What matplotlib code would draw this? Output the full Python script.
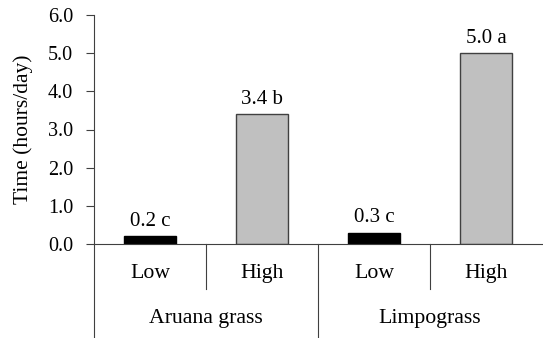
import matplotlib
matplotlib.use("Agg")
import matplotlib.pyplot as plt

plt.rcParams['font.family'] = ['Liberation Serif', 'DejaVu Serif']

groups = ["Aruana grass", "Limpograss"]
levels = ["Low", "High", "Low", "High"]
values = [0.2, 3.4, 0.3, 5.0]
letters = ["c", "b", "c", "a"]
bar_colors = ["#000000", "#c0c0c0", "#000000", "#c0c0c0"]
edge_colors = ["#000000", "#404040", "#000000", "#404040"]
yticks = [0.0, 1.0, 2.0, 3.0, 4.0, 5.0, 6.0]

fig = plt.figure(figsize=(5.43, 3.38), dpi=100)
ax = fig.add_axes([94 / 543, 94 / 338, 448 / 543, 229 / 338])

x = [i + 0.5 for i in range(len(values))]
ax.bar(x, values, width=0.46, color=bar_colors, edgecolor=edge_colors, linewidth=1.0)

for xi, v, l in zip(x, values, letters):
    ax.text(xi, v + 0.27, f"{v:.1f} {l}", ha='center', va='baseline', fontsize=15)

ax.set_xlim(0, 4)
ax.set_ylim(0, 6)
ax.set_yticks(yticks)
ax.set_yticklabels([f"{t:.1f}" for t in yticks], fontsize=14.5)
ax.set_xticks([])
ax.tick_params(axis='y', direction='out', length=6, width=0.8, color='#404040', pad=9)
ax.set_ylabel("Time (hours/day)", fontsize=15.5, va='center')
ax.yaxis.set_label_coords((23 - 94) / 448, 0.5)

for s in ['top', 'right']:
    ax.spines[s].set_visible(False)
ax.spines['left'].set_color('#404040')
ax.spines['bottom'].set_color('#404040')

# extended axis line and category dividers below the x axis
lc = '#404040'
ax.plot([0, 0], [0, -96 / 229], transform=ax.transAxes, color=lc, lw=0.8, clip_on=False)
for d in [1, 3]:
    ax.plot([d / 4, d / 4], [0, -45 / 229], transform=ax.transAxes, color=lc, lw=0.8, clip_on=False)
ax.plot([0.5, 0.5], [0, -96 / 229], transform=ax.transAxes, color=lc, lw=0.8, clip_on=False)

for xi, lv in zip(x, levels):
    ax.text(xi / 4, -34 / 229, lv, transform=ax.transAxes, ha='center', va='baseline', fontsize=15.7)
for i, g in enumerate(groups):
    ax.text(0.25 + 0.5 * i, -79 / 229, g, transform=ax.transAxes, ha='center', va='baseline', fontsize=15.7)

fig.savefig("out.png", dpi=100)
